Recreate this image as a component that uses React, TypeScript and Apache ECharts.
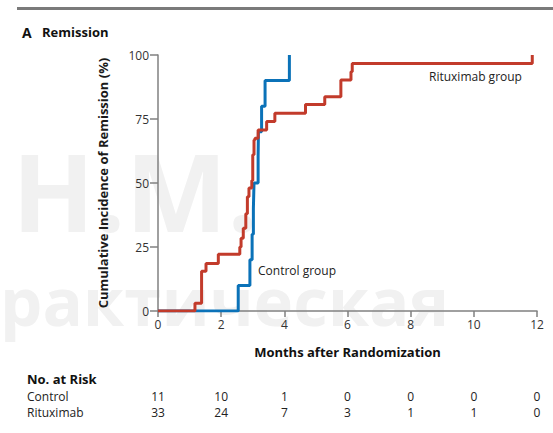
import React, { useEffect, useRef } from "react";
import * as echarts from "echarts";

const controlMonths = [0, 2.54, 2.91, 2.98, 3.02, 3.04, 3.17, 3.18, 3.28, 3.39, 4.16];
const controlPct = [0, 10, 20, 30, 40, 50, 60, 70, 80, 90, 100];

const rituxMonths = [0, 1.17, 1.38, 1.52, 1.91, 2.59, 2.63, 2.7, 2.78, 2.83, 2.88, 2.97, 3.0, 3.04, 3.07, 3.17, 3.44, 3.7, 4.67, 5.28, 5.79, 6.11, 6.15, 11.85];
const rituxPct = [0, 3.0, 15.5, 18.6, 22.2, 25.0, 28.4, 32.3, 38.0, 44.6, 48.0, 51.0, 61.0, 66.8, 67.5, 70.7, 74.0, 77.2, 80.7, 83.7, 90.2, 93.5, 96.7, 100];

const riskMonths = [0, 2, 4, 6, 8, 10, 12];
const riskControl = [11, 10, 1, 0, 0, 0, 0];
const riskRituximab = [33, 24, 7, 3, 1, 1, 0];

const FONT = "'Open Sans', 'Noto Sans', sans-serif";
const RED = "#c23b2b";
const BLUE = "#0b72b8";

const GRID_LEFT = 158;
const GRID_RIGHT = 16;
const GRID_TOP = 55;
const GRID_BOTTOM = 122;
const W = 553;
const H = 433;

export default function App() {
  const ref = useRef<HTMLDivElement>(null);
  useEffect(() => {
    if (!ref.current) return;
    const chart = echarts.init(ref.current, null, { renderer: "svg" });
    const gridW = W - GRID_LEFT - GRID_RIGHT;
    const xPix = (m: number) => GRID_LEFT + (m / 12) * gridW;

    const riskTexts: any[] = [];
    riskMonths.forEach((m, i) => {
      riskTexts.push({
        type: "text",
        x: xPix(m),
        y: 396,
        style: { text: String(riskControl[i]), font: `12px ${FONT}`, fill: "#222", align: "center", verticalAlign: "middle" },
      });
      riskTexts.push({
        type: "text",
        x: xPix(m),
        y: 412,
        style: { text: String(riskRituximab[i]), font: `12px ${FONT}`, fill: "#222", align: "center", verticalAlign: "middle" },
      });
    });

    chart.setOption({
      animation: false,
      backgroundColor: "#fff",
      grid: { left: GRID_LEFT, right: GRID_RIGHT, top: GRID_TOP, bottom: GRID_BOTTOM, containLabel: false },
      xAxis: {
        type: "value",
        min: 0,
        max: 12,
        interval: 2,
        name: "Months after Randomization",
        nameLocation: "middle",
        nameGap: 34,
        nameTextStyle: { fontFamily: FONT, fontWeight: "bold", fontSize: 13, color: "#111" },
        axisLine: { lineStyle: { color: "#808080", width: 1.5 } },
        axisTick: { show: true, length: 6, lineStyle: { color: "#808080", width: 1.5 } },
        axisLabel: { margin: 7, fontFamily: FONT, fontSize: 12, color: "#333" },
        splitLine: { show: false },
      },
      yAxis: {
        type: "value",
        min: 0,
        max: 100,
        interval: 25,
        name: "Cumulative Incidence of Remission (%)",
        nameLocation: "middle",
        nameGap: 49,
        nameTextStyle: { fontFamily: FONT, fontWeight: "bold", fontSize: 13, color: "#1a1a1a" },
        axisLine: { show: true, lineStyle: { color: "#808080", width: 1.5 } },
        axisTick: { show: true, length: 8, lineStyle: { color: "#808080", width: 1.5 } },
        axisLabel: { margin: 9, fontFamily: FONT, fontSize: 12, color: "#333" },
        splitLine: { show: false },
      },
      series: [
        {
          name: "Control group",
          type: "line",
          step: "end",
          symbol: "none",
          z: 3,
          lineStyle: { color: BLUE, width: 3 },
          data: controlMonths.map((m, i) => [m, controlPct[i]]),
        },
        {
          name: "Rituximab group",
          type: "line",
          step: "end",
          symbol: "none",
          z: 4,
          lineStyle: { color: RED, width: 3 },
          data: rituxMonths.map((m, i) => [m, rituxPct[i]]),
        },
      ],
      graphic: [
        { type: "text", z: -1, x: 12, y: 190, style: { text: "Н.М.", font: `bold 108px ${FONT}`, fill: "#f1f1f1", verticalAlign: "middle" } },
        { type: "text", z: -1, x: 0, y: 300, style: { text: "рактическая", font: `bold 67px ${FONT}`, fill: "#f1f1f1", verticalAlign: "middle" } },
        { type: "rect", shape: { x: 17, y: 7, width: 536, height: 3 }, style: { fill: "#7a7a7a" } },
        { type: "text", x: 22, y: 32, style: { text: "A", font: `bold 14px ${FONT}`, fill: "#111", verticalAlign: "middle" } },
        { type: "text", x: 42, y: 32, style: { text: "Remission", font: `bold 13px ${FONT}`, fill: "#111", verticalAlign: "middle" } },
        { type: "text", x: 429, y: 76, style: { text: "Rituximab group", font: `12px ${FONT}`, fill: "#222", verticalAlign: "middle" } },
        { type: "text", x: 258, y: 270, style: { text: "Control group", font: `12px ${FONT}`, fill: "#222", verticalAlign: "middle" } },
        { type: "text", x: 27, y: 379, style: { text: "No. at Risk", font: `bold 13px ${FONT}`, fill: "#111", verticalAlign: "middle" } },
        { type: "text", x: 27, y: 396, style: { text: "Control", font: `12px ${FONT}`, fill: "#222", verticalAlign: "middle" } },
        { type: "text", x: 27, y: 412, style: { text: "Rituximab", font: `12px ${FONT}`, fill: "#222", verticalAlign: "middle" } },
        ...riskTexts,
      ],
    });
    return () => chart.dispose();
  }, []);
  return <div ref={ref} style={{ position: "absolute", left: 0, top: 0, width: W, height: H }} />;
}
